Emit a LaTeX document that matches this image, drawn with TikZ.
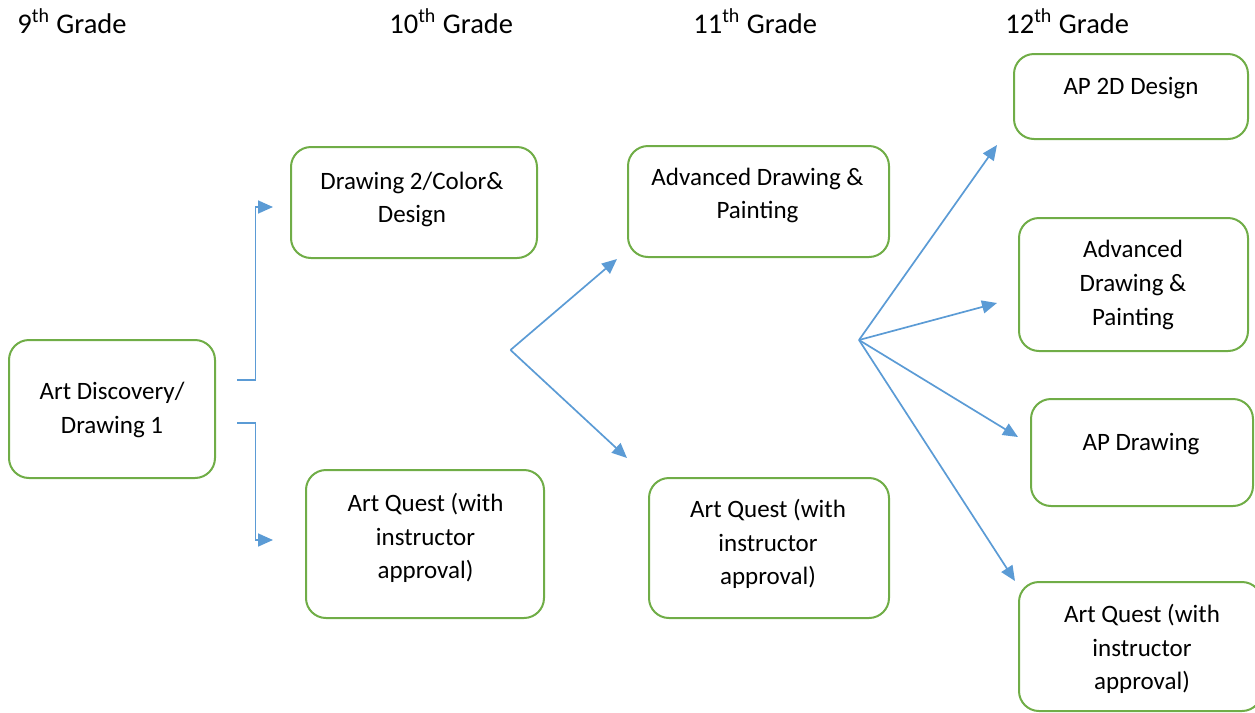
\documentclass[tikz,border=0pt]{standalone}
\usepackage{fontspec}
\setmainfont{Carlito}
\usetikzlibrary{arrows.meta}
\definecolor{boxgreen}{HTML}{70AD47}
\definecolor{arrblue}{HTML}{5B9BD5}
\tikzset{every node/.style={inner sep=0pt}}
\tikzset{box/.style={draw=boxgreen,line width=1pt,rounded corners=10pt}}
\tikzset{sz/.style 2 args={minimum width=#1*0.5pt,minimum height=#2*0.5pt}}
\tikzset{txt/.style={align=center,font=\fontsize{12.5}{16.8}\selectfont}}
\tikzset{grade/.style={anchor=base west,font=\fontsize{14.25}{17}\selectfont}}
\tikzset{arr/.style={draw=arrblue,line width=0.85pt,-{Triangle[length=7.5pt,width=6.5pt]}}}

\begin{document}
\begin{tikzpicture}[x=0.5pt,y=-0.5pt]
      \useasboundingbox (0,0) rectangle (1255,713);
      % grade headings
      \node[grade] (g9) at (17,33) {9\textsuperscript{th} Grade};
      \node[grade] (g10) at (389,33) {10\textsuperscript{th} Grade};
      \node[grade] (g11) at (693,33) {11\textsuperscript{th} Grade};
      \node[grade] (g12) at (1005,33) {12\textsuperscript{th} Grade};
      % boxes
      \node[box,sz={206}{138}] (disc) at (112,409) {};
      \node[box,sz={246}{111}] (dp2) at (414,202.5) {};
      \node[box,sz={238}{148}] (aq10) at (425,544) {};
      \node[box,sz={261}{111}] (adv11) at (758.5,201.5) {};
      \node[box,sz={240}{140}] (aq11) at (769,548) {};
      \node[box,sz={234}{85}] (ap2d) at (1131,96.5) {};
      \node[box,sz={229}{133}] (adv12) at (1133.5,284.5) {};
      \node[box,sz={222}{107}] (apdr) at (1142,452.5) {};
      \node[box,sz={243}{129}] (aq12) at (1140.5,646.5) {};
      % box texts
      \node[txt] (disc-t) at (112,410) {Art Discovery/\\Drawing 1};
      \node[txt] (dp2-t) at (412,199.5) {Drawing 2/Color\&\\Design};
      \node[txt] (aq10-t) at (425.5,538) {Art Quest (with\\instructor\\approval)};
      \node[txt] (adv11-t) at (757.5,195.5) {Advanced Drawing \&\\Painting};
      \node[txt] (aq11-t) at (768,544) {Art Quest (with\\instructor\\approval)};
      \node[txt] (ap2d-t) at (1131,88.5) {AP 2D Design};
      \node[txt] (adv12-t) at (1133,285) {Advanced\\Drawing \&\\Painting};
      \node[txt] (apdr-t) at (1141,444.5) {AP Drawing};
      \node[txt] (aq12-t) at (1142,649) {Art Quest (with\\instructor\\approval)};
      % connector ends
      \coordinate (fkA) at (237,380);
      \coordinate (fkB) at (237,423);
      \coordinate (tDP) at (273,207);
      \coordinate (tAQ10) at (273,540);
      \coordinate (hubA) at (510.5,350);
      \coordinate (tADV) at (617,259);
      \coordinate (tAQ11) at (627,458);
      \coordinate (hubB) at (859,340);
      \coordinate (tAP2) at (997,145);
      \coordinate (tADV12) at (997,303);
      \coordinate (tAPD) at (1018,437);
      \coordinate (tAQ12) at (1015,581);
        \draw[arr] (fkA) -- ++(18.5,0) |- (tDP);
        \draw[arr] (fkB) -- ++(18.5,0) |- (tAQ10);
        \draw[arr] (hubA) -- (tADV);
        \draw[arr] (hubA) -- (tAQ11);
        \foreach \t in {tAP2,tADV12,tAPD,tAQ12}
          \draw[arr] (hubB) -- (\t);
    \end{tikzpicture}
\end{document}
